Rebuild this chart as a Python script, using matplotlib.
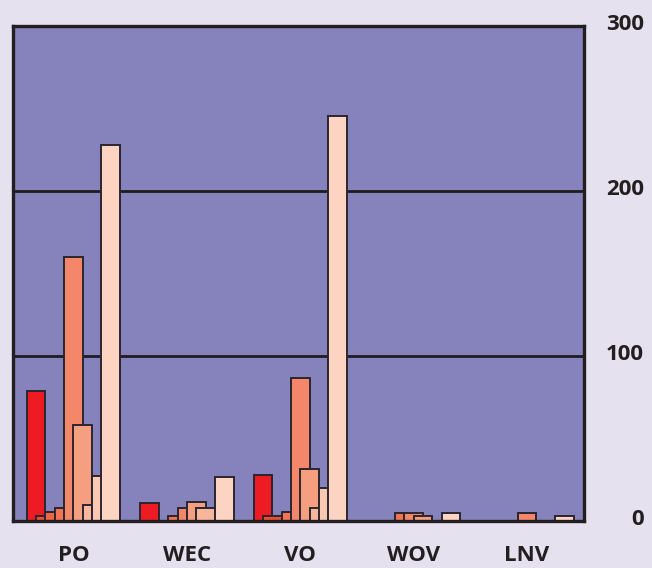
import matplotlib
matplotlib.use("Agg")
import matplotlib.pyplot as plt
import matplotlib.transforms as mtransforms
import numpy as np

categories = ['PO', 'WEC', 'VO', 'WOV', 'LNV']
s1 = [79, 10.8, 27.8, 0, 0]
s2 = [3.3, 0, 3.3, 0, 0]
s3 = [5.2, 0, 0, 0, 0]
s4 = [7.6, 2.9, 5.2, 5.0, 0]
s5 = [160, 7.8, 86.4, 5.0, 5.0]
s6 = [58, 11.7, 31.7, 3.0, 0]
s7 = [9.4, 7.8, 7.8, 0, 0]
s8 = [27, 0, 19.8, 0, 0]
s9 = [228, 26.6, 245.5, 5.0, 2.9]
series = [s1, s2, s3, s4, s5, s6, s7, s8, s9]
yticks = [0, 100, 200, 300]

colors = ['#ED1C24', '#EE4C32', '#F06544', '#F27453', '#F4876A',
          '#F69E80', '#F8B79D', '#FBC8B1', '#FDD4C1']
edge = '#2A2630'
fontfam = ['Open Sans', 'DejaVu Sans']

fig = plt.figure(figsize=(6.52, 5.68), dpi=100)
fig.patch.set_facecolor('#E6E1EF')
ax = fig.add_axes([13/652, 1-521/568, (584-13)/652, (521-26)/568])
ax.set_facecolor('#8582BC')

x = np.arange(len(categories))
step = 0.0823
width = 2 * step
for j, vals in enumerate(series):
    ax.bar(x + (j - 4) * step, vals, width=width, color=colors[j],
           edgecolor=edge, linewidth=1.4, zorder=3 + j)

ax.set_xlim(-0.533, 4.502)
ax.set_ylim(0, 300)
for yv in [100, 200]:
    ax.axhline(yv, color='#1E1B22', linewidth=2.0, zorder=2)

ax.yaxis.tick_right()
ax.set_yticks(yticks)
ax.set_yticklabels([str(v) for v in yticks], fontsize=16, fontweight='bold',
                   family=fontfam, color='#231F20', ha='right')
ax.tick_params(axis='y', length=0, pad=43)
offset = mtransforms.ScaledTranslation(0, 4/100, fig.dpi_scale_trans)
for lab in ax.get_yticklabels():
    lab.set_transform(lab.get_transform() + offset)

ax.set_xticks(x)
ax.set_xticklabels(categories, fontsize=16, fontweight='bold',
                   family=fontfam, color='#231F20')
ax.tick_params(axis='x', length=0, pad=17)

for sp in ax.spines.values():
    sp.set_linewidth(2.4)
    sp.set_color('#231F20')
    sp.set_zorder(20)

fig.savefig('out.png', dpi=100, facecolor=fig.get_facecolor())
